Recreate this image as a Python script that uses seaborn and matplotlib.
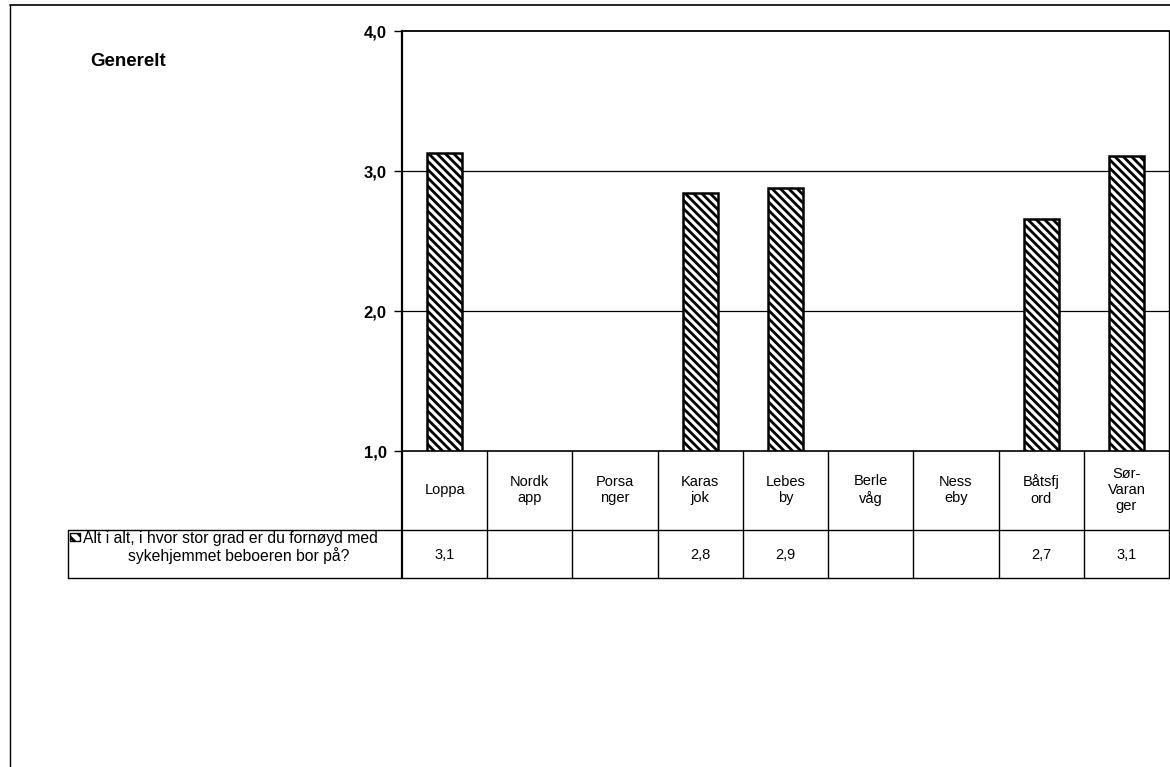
import numpy as np
import pandas as pd
import matplotlib
matplotlib.use("Agg")
import matplotlib.pyplot as plt
import matplotlib.transforms as mtransforms
from matplotlib.patches import Rectangle
import seaborn as sns

# ---- data ----
categories = ["Loppa", "Nordk\napp", "Porsa\nnger", "Karas\njok", "Lebes\nby",
              "Berle\nvåg", "Ness\neby", "Båtsfj\nord", "Sør-\nVaran\nger"]
values = [3.13, np.nan, np.nan, 2.84, 2.88, np.nan, np.nan, 2.66, 3.11]
value_labels = ["3,1", "", "", "2,8", "2,9", "", "", "2,7", "3,1"]
yticks = [1.0, 2.0, 3.0, 4.0]
ytick_labels = ["1,0", "2,0", "3,0", "4,0"]
series_line1 = "Alt i alt, i hvor stor grad er du fornøyd med"
series_line2 = "sykehjemmet beboeren bor på?"
panel_title = "Generelt"

sns.set_style("white")
plt.rcParams['font.family'] = ['Liberation Sans Narrow', 'Liberation Sans', 'DejaVu Sans']
plt.rcParams['hatch.linewidth'] = 2.0
plt.rcParams['text.color'] = 'black'
plt.rcParams['ytick.color'] = 'black'
plt.rcParams['ytick.labelcolor'] = 'black'

W, H = 1170, 767
fig = plt.figure(figsize=(W / 100, H / 100), dpi=100)

def fx(px):
    return px / W

def fy(py):
    return 1 - py / H

ax_left, ax_right, ax_top, ax_bottom = 402, 1169, 31, 451
ax = fig.add_axes([fx(ax_left), fy(ax_bottom), fx(ax_right - ax_left), fy(ax_top) - fy(ax_bottom)])

HATCH = "\\\\\\\\"
df = pd.DataFrame({"cat": categories, "val": values})
sns.barplot(data=df, x="cat", y="val", order=categories, ax=ax, errorbar=None,
            color="white", edgecolor="black", linewidth=1.8, width=0.41, hatch=HATCH)

ax.set_xlim(-0.5, len(categories) - 0.5)
ax.set_ylim(1, 4)
ax.set_yticks(yticks)
ax.set_yticklabels(ytick_labels, fontsize=12, fontweight="bold")
ax.set_xticks([])
ax.set_xlabel("")
ax.set_ylabel("")
for y in [2.0, 3.0]:
    ax.axhline(y, color="black", lw=0.9, zorder=0)
for s in ax.spines.values():
    s.set_color("black")
ax.spines["left"].set_linewidth(1.6)
ax.spines["top"].set_linewidth(1.3)
ax.spines["bottom"].set_linewidth(1.2)
ax.spines["right"].set_linewidth(1.0)
ax.tick_params(axis="y", direction="out", length=6, width=1, left=True, pad=5)

# ---- data table below the axes ----
row1_bot, row2_bot = 530, 578
trans = mtransforms.blended_transform_factory(ax.transData, fig.transFigure)
n = len(categories)
for i in range(n + 1):
    x = i - 0.5
    lw = 1.6 if i == 0 else 1.0
    fig.add_artist(plt.Line2D([x, x], [fy(ax_bottom), fy(row2_bot)], color="black",
                              lw=lw, transform=trans))
for i, (c, v) in enumerate(zip(categories, value_labels)):
    fig.text(i, fy(490), c, transform=trans, ha="center", va="center",
             fontsize=10.5, linespacing=1.2)
    fig.text(i, fy(555), v, transform=trans, ha="center", va="center", fontsize=10.5)

leg_left = 68
xr = fx(ax_right)
for yy in [row1_bot, row2_bot]:
    fig.add_artist(plt.Line2D([fx(leg_left), xr], [fy(yy), fy(yy)], color="black", lw=1.0))
fig.add_artist(plt.Line2D([fx(leg_left), fx(leg_left)], [fy(row1_bot), fy(row2_bot)],
                          color="black", lw=1.0))

# legend key + series name
fig.add_artist(Rectangle((fx(70), fy(541)), fx(10), fy(533) - fy(541),
                         transform=fig.transFigure, facecolor="white", edgecolor="black",
                         lw=1.0, hatch="\\\\\\"))
fig.text(fx(83), fy(539), series_line1, ha="left", va="center", fontsize=11.3)
fig.text(fx(239), fy(556), series_line2, ha="center", va="center", fontsize=11.3)

# panel title
fig.text(fx(90), fy(62), panel_title, ha="left", va="center", fontsize=13.5,
         fontweight="bold")

# outer frame
fig.add_artist(plt.Line2D([fx(10), fx(10)], [fy(5), 0], color="black", lw=1.0))
fig.add_artist(plt.Line2D([fx(10), 1], [fy(5), fy(5)], color="black", lw=1.2))

fig.savefig("out.png", dpi=100)
